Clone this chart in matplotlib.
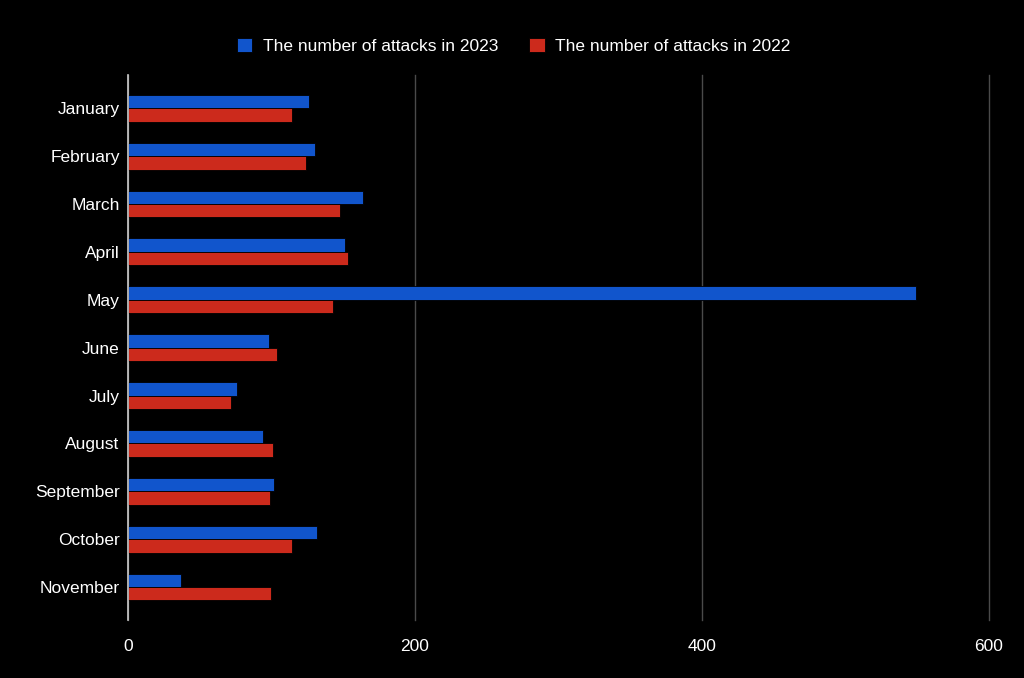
import numpy as np
import matplotlib
matplotlib.use("Agg")
import matplotlib.pyplot as plt

plt.rcParams['font.family'] = ['Liberation Sans', 'DejaVu Sans']

# Data
months = ["January", "February", "March", "April", "May", "June",
          "July", "August", "September", "October", "November"]
attacks_2023 = [126, 130, 164, 151, 549, 98, 76, 94, 102, 132, 37]
attacks_2022 = [114, 124, 148, 153, 143, 104, 72, 101, 99, 114, 100]

blue = "#1155cc"
red = "#cc2a1c"

fig = plt.figure(figsize=(10.24, 6.78), dpi=100, facecolor="black")
ax = fig.add_axes([0.125, 0.0855, 0.8408, 0.8035], facecolor="black")

y = np.arange(len(months))
h = 0.28
ax.barh(y - h / 2, attacks_2023, height=h, color=blue, edgecolor="black", linewidth=0.6,
        label="The number of attacks in 2023", zorder=3)
ax.barh(y + h / 2, attacks_2022, height=h, color=red, edgecolor="black", linewidth=0.6,
        label="The number of attacks in 2022", zorder=3)

ax.set_xlim(0, 600)
ax.set_ylim(len(months) - 1 + 0.69, -0.69)
ax.set_xticks([0, 200, 400, 600])
ax.set_yticks(y)
ax.set_yticklabels(months)

ax.grid(axis="x", color="#4a4a4a", linewidth=1, zorder=0)
for gl in ax.xaxis.get_gridlines():
    gl.set_clip_on(False)
for s in ["top", "right", "bottom"]:
    ax.spines[s].set_visible(False)
ax.spines["left"].set_color("#cccccc")
ax.spines["left"].set_linewidth(1.2)
ax.spines["left"].set_zorder(4)
ax.tick_params(axis="both", length=0, colors="white", labelsize=12.5)
ax.tick_params(axis="x", pad=14)
ax.tick_params(axis="y", pad=6)

ax.legend(loc="lower center", bbox_to_anchor=(0.448, 1.01), ncol=2, frameon=False,
          fontsize=12.5, labelcolor="white", handlelength=0.9, handleheight=0.9,
          columnspacing=1.8, handletextpad=0.6)

fig.savefig("out.png", facecolor="black")
